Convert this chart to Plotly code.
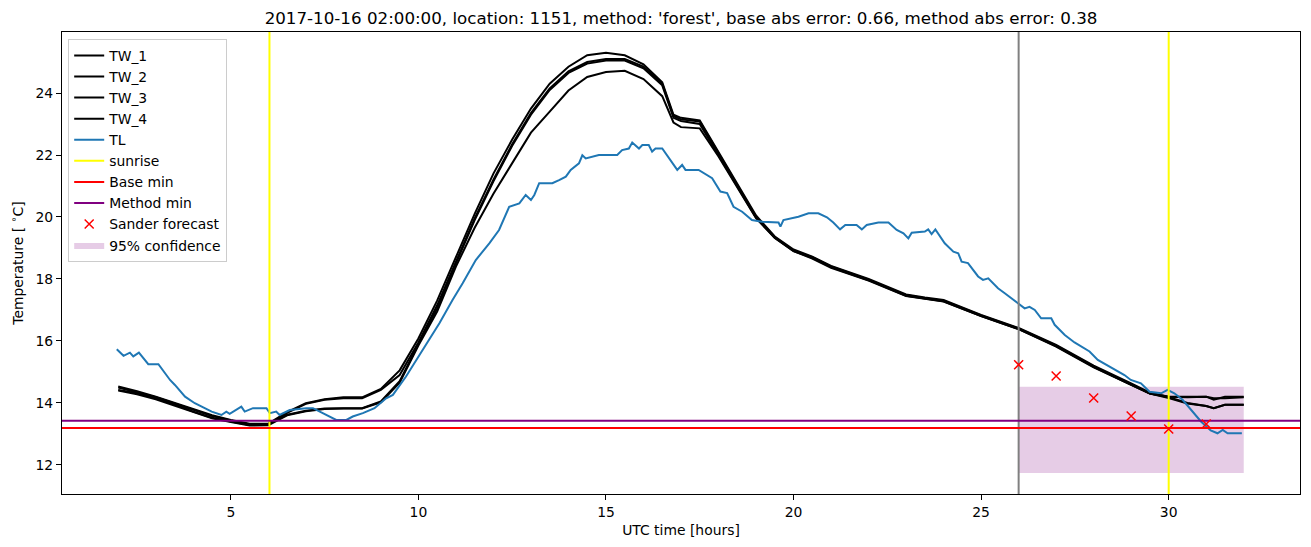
import plotly.graph_objects as go

# ---------------- data ----------------
t_tw = [2.0, 2.5, 3.0, 3.5, 4.0, 4.5, 5.0, 5.5, 6.0, 6.5, 7.0, 7.5, 8.0, 8.5, 9.0, 9.5,
        10.0, 10.5, 11.0, 11.5, 12.0, 12.5, 13.0, 13.5, 14.0, 14.5, 15.0, 15.5, 16.0, 16.5,
        16.8, 17.0, 17.5, 18.0, 18.5, 19.0, 19.5, 20.0, 20.5, 21.0, 22.0, 23.0, 23.5, 24.0,
        25.0, 26.0, 27.0, 28.0, 29.0, 29.5, 30.0, 30.5, 31.0, 31.2, 31.5, 32.0]

tw_1 = [14.53, 14.38, 14.20, 14.00, 13.80, 13.60, 13.45, 13.33, 13.33, 13.70, 13.99, 14.12, 14.18, 14.18, 14.45, 15.05,
        16.08, 17.30, 18.70, 20.10, 21.40, 22.50, 23.50, 24.30, 24.85, 25.22, 25.30, 25.22, 24.93, 24.35,
        23.30, 23.20, 23.12, 22.10, 21.05, 20.05, 19.37, 18.95, 18.72, 18.42, 18.00, 17.50, 17.40, 17.32,
        16.84, 16.42, 15.87, 15.20, 14.63, 14.33, 14.20, 14.20, 14.20, 14.10, 14.20, 14.20]
tw_2 = [14.50, 14.35, 14.18, 13.98, 13.78, 13.58, 13.43, 13.30, 13.30, 13.68, 13.97, 14.10, 14.15, 14.15, 14.42, 14.90,
        15.95, 17.15, 18.55, 19.95, 21.20, 22.35, 23.35, 24.15, 24.70, 25.00, 25.10, 25.10, 24.85, 24.30,
        23.25, 23.15, 23.08, 22.05, 21.00, 20.00, 19.35, 18.92, 18.70, 18.40, 17.98, 17.48, 17.38, 17.30,
        16.82, 16.40, 15.85, 15.18, 14.60, 14.30, 14.20, 14.18, 14.20, 14.15, 14.15, 14.18]
tw_3 = [14.42, 14.31, 14.15, 13.95, 13.72, 13.52, 13.40, 13.29, 13.30, 13.62, 13.75, 13.82, 13.83, 13.83, 14.05, 14.70,
        15.90, 17.05, 18.50, 19.90, 21.15, 22.30, 23.30, 24.10, 24.65, 24.95, 25.05, 25.05, 24.80, 24.25,
        23.20, 23.10, 23.00, 22.00, 20.98, 19.98, 19.33, 18.90, 18.68, 18.38, 17.96, 17.46, 17.37, 17.28,
        16.80, 16.38, 15.83, 15.16, 14.58, 14.30, 14.18, 14.00, 13.90, 13.83, 13.94, 13.94]
tw_4 = [14.40, 14.28, 14.12, 13.92, 13.70, 13.50, 13.38, 13.27, 13.28, 13.60, 13.73, 13.80, 13.82, 13.82, 14.02, 14.65,
        15.85, 16.95, 18.40, 19.65, 20.75, 21.73, 22.72, 23.40, 24.08, 24.52, 24.68, 24.72, 24.45, 23.90,
        23.05, 22.90, 22.86, 21.95, 20.95, 19.96, 19.32, 18.90, 18.66, 18.36, 17.95, 17.45, 17.36, 17.27,
        16.80, 16.38, 15.82, 15.15, 14.58, 14.30, 14.16, 13.98, 13.90, 13.83, 13.94, 13.94]

t_tl = [1.96, 2.14, 2.31, 2.40, 2.55, 2.80, 3.07, 3.38, 3.51, 3.78, 4.04, 4.49, 4.75, 4.88, 4.97, 5.28,
        5.37, 5.59, 5.95, 6.04, 6.21, 6.30, 6.57, 7.01, 7.19, 7.54, 7.81, 8.08, 8.25, 8.52, 8.83, 9.14,
        9.32, 9.67, 10.11, 10.56, 10.91, 11.18, 11.53, 11.89, 12.15, 12.42, 12.69, 12.86, 13.00, 13.09,
        13.22, 13.57, 13.75, 13.93, 14.06, 14.28, 14.37, 14.46, 14.81, 15.30, 15.43, 15.61, 15.70, 15.88,
        15.97, 16.14, 16.23, 16.32, 16.50, 16.72, 16.90, 17.03, 17.12, 17.47, 17.83, 18.05, 18.23, 18.40,
        18.63, 18.89, 19.16, 19.60, 19.65, 19.73, 19.96, 20.13, 20.40, 20.66, 20.89, 21.06, 21.24, 21.38,
        21.68, 21.82, 21.95, 22.26, 22.53, 22.75, 22.93, 23.06, 23.15, 23.50, 23.59, 23.68, 23.78, 24.03,
        24.26, 24.39, 24.48, 24.65, 24.92, 25.05, 25.19, 25.45, 25.63, 25.80, 25.94, 26.16, 26.29, 26.43,
        26.60, 26.87, 26.96, 27.23, 27.49, 27.89, 28.11, 28.33, 28.64, 28.82, 28.99, 29.26, 29.49, 29.80,
        29.97, 30.15, 30.37, 30.68, 30.86, 31.12, 31.30, 31.44, 31.57, 31.95]
tl = [15.73, 15.52, 15.62, 15.50, 15.62, 15.25, 15.25, 14.74, 14.58, 14.20, 13.99, 13.72, 13.61, 13.72, 13.65, 13.88,
      13.72, 13.83, 13.83, 13.67, 13.72, 13.61, 13.77, 13.83, 13.83, 13.61, 13.45, 13.45, 13.56, 13.67, 13.83, 14.15,
      14.26, 14.85, 15.71, 16.57, 17.32, 17.86, 18.61, 19.15, 19.58, 20.33, 20.44, 20.71, 20.55, 20.71,
      21.09, 21.09, 21.19, 21.30, 21.52, 21.73, 21.99, 21.89, 22.00, 22.00, 22.16, 22.21, 22.40, 22.21,
      22.32, 22.32, 22.11, 22.21, 22.21, 21.84, 21.52, 21.68, 21.52, 21.52, 21.25, 20.82, 20.77, 20.33,
      20.17, 19.90, 19.85, 19.82, 19.69, 19.90, 19.96, 20.01, 20.12, 20.12, 19.99, 19.82, 19.60, 19.74,
      19.74, 19.60, 19.74, 19.82, 19.82, 19.58, 19.47, 19.31, 19.49, 19.53, 19.60, 19.45, 19.60, 19.15,
      18.88, 18.83, 18.56, 18.51, 18.08, 17.97, 18.02, 17.70, 17.54, 17.38, 17.24, 17.05, 17.10, 17.00,
      16.73, 16.73, 16.52, 16.19, 15.95, 15.66, 15.39, 15.23, 15.01, 14.90, 14.74, 14.63, 14.36, 14.31,
      14.42, 14.31, 14.10, 13.67, 13.40, 13.11, 13.02, 13.13, 13.02, 13.02]

sunrise_hours = [6.03, 30.0]
forecast_start = 26.0
base_min = 13.19
method_min = 13.42
sander_hours = [26, 27, 28, 29, 30, 31]
sander_temp = [15.23, 14.87, 14.16, 13.58, 13.16, 13.32]
conf_hours = [26.0, 32.0]
conf_low = 11.74
conf_high = 14.52

x_range = [0.5, 33.5]
y_range = [11.06, 25.97]

title = ("2017-10-16 02:00:00, location: 1151, method: 'forest', "
         "base abs error: 0.66, method abs error: 0.38")

# ---------------- figure ----------------
FONT = "DejaVu Sans, Arial, sans-serif"
FS = 13.9
fig = go.Figure()

# confidence band (drawn first, listed last)
fig.add_trace(go.Scatter(
    x=[conf_hours[0], conf_hours[1], conf_hours[1], conf_hours[0], conf_hours[0]],
    y=[conf_low, conf_low, conf_high, conf_high, conf_low],
    fill="toself", fillcolor="rgba(128,0,128,0.2)", mode="lines",
    line=dict(width=0, color="rgba(0,0,0,0)"), name="95% confidence",
    legendrank=10))

for i, (name, ys) in enumerate([("TW_1", tw_1), ("TW_2", tw_2), ("TW_3", tw_3), ("TW_4", tw_4)]):
    fig.add_trace(go.Scatter(x=t_tw, y=ys, mode="lines", name=name,
                             line=dict(color="black", width=2), legendrank=1 + i))

fig.add_trace(go.Scatter(x=t_tl, y=tl, mode="lines", name="TL",
                         line=dict(color="#1f77b4", width=2), legendrank=5))

sx, sy = [], []
for h in sunrise_hours:
    sx += [h, h, None]
    sy += [y_range[0], y_range[1], None]
fig.add_trace(go.Scatter(x=sx, y=sy, mode="lines", name="sunrise",
                         line=dict(color="#ffff00", width=2), legendrank=6))

fig.add_trace(go.Scatter(x=[forecast_start, forecast_start], y=y_range, mode="lines",
                         line=dict(color="grey", width=2), showlegend=False))

fig.add_trace(go.Scatter(x=x_range, y=[base_min, base_min], mode="lines", name="Base min",
                         line=dict(color="#ff0000", width=2), legendrank=7))
fig.add_trace(go.Scatter(x=x_range, y=[method_min, method_min], mode="lines", name="Method min",
                         line=dict(color="#800080", width=2), legendrank=8))

fig.add_trace(go.Scatter(x=sander_hours, y=sander_temp, mode="markers", name="Sander forecast",
                         marker=dict(symbol="x-thin", size=9, color="red",
                                     line=dict(color="red", width=1.5)), legendrank=9))

axis_common = dict(showgrid=False, zeroline=False, showline=True, linecolor="black",
                   linewidth=1, mirror=True, ticks="outside", ticklen=5, tickwidth=1,
                   tickcolor="black", tickfont=dict(family=FONT, size=FS, color="black"))

fig.update_layout(
    width=1311, height=547,
    margin=dict(l=62, r=11, t=32, b=53),
    paper_bgcolor="white", plot_bgcolor="white",
    font=dict(family=FONT, size=FS, color="black"),
    title=dict(text=title, x=(62 + 1300) / 2 / 1311, xanchor="center", y=1 - 18 / 547,
               yanchor="middle", font=dict(family=FONT, size=16.7, color="black")),
    xaxis=dict(range=x_range, tickvals=[5, 10, 15, 20, 25, 30],
               title=dict(text="UTC time [hours]", font=dict(family=FONT, size=FS), standoff=6),
               **axis_common),
    yaxis=dict(range=y_range, tickvals=[12, 14, 16, 18, 20, 22, 24],
               title=dict(text="Temperature [ <sup>∘</sup>C]", font=dict(family=FONT, size=FS), standoff=8),
               **axis_common),
    legend=dict(x=0.005, y=0.985, xanchor="left", yanchor="top",
                bgcolor="rgba(255,255,255,0.8)", bordercolor="#cccccc", borderwidth=1,
                font=dict(family=FONT, size=FS, color="black"), tracegroupgap=0),
    showlegend=True,
)

fig.write_html("out.html")
